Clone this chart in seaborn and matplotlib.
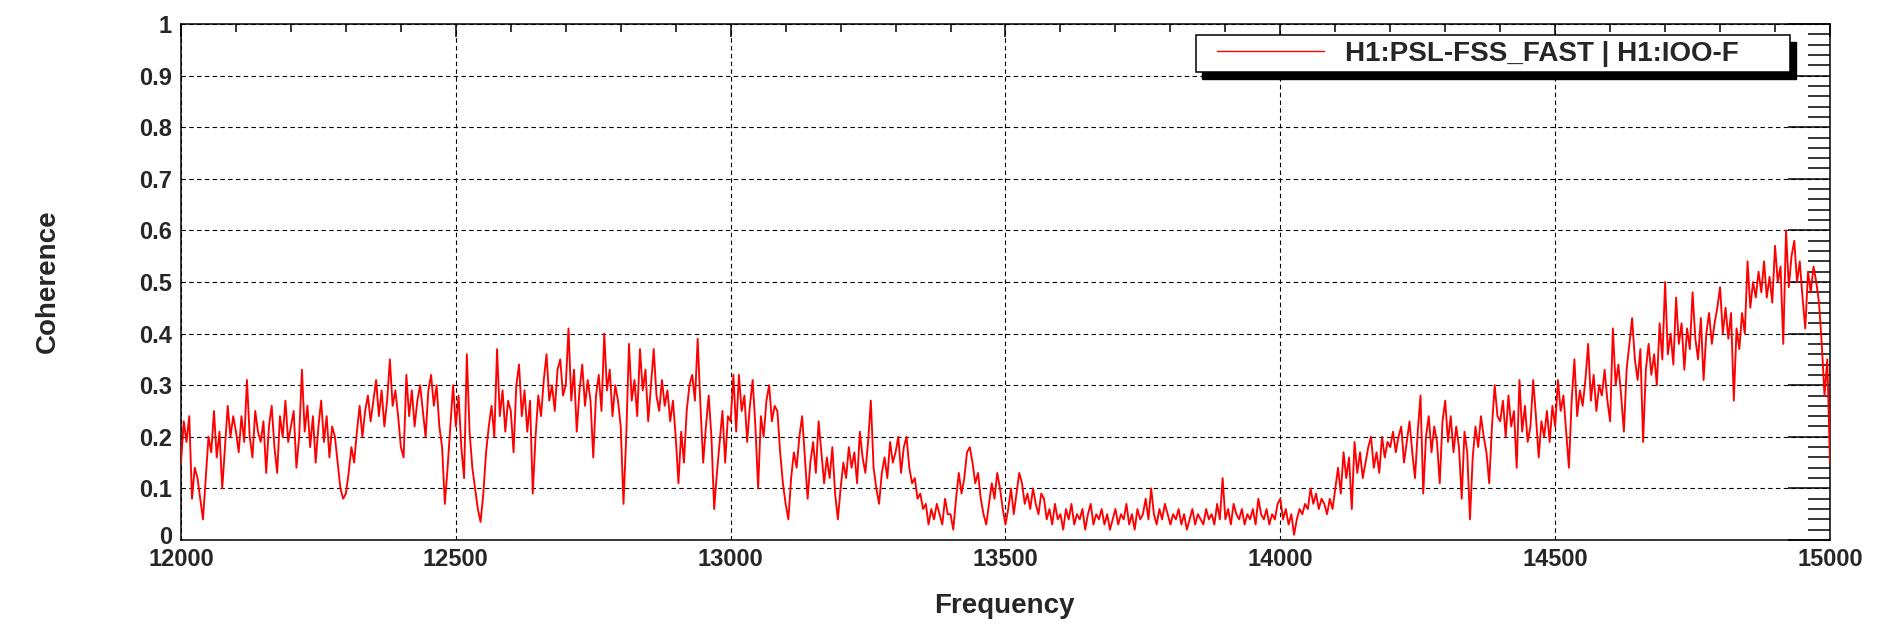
import numpy as np
import pandas as pd
import seaborn as sns
import matplotlib
matplotlib.use("Agg")
import matplotlib.pyplot as plt
from matplotlib.patches import Rectangle
from matplotlib.ticker import MultipleLocator, FuncFormatter
from matplotlib.transforms import ScaledTranslation

# ---------------- data (coherence, 5 Hz steps) ----------------
f_start, f_stop = 12000, 15000

coh_12000_12500 = [
    0.15, 0.23, 0.19, 0.24, 0.08, 0.14, 0.12, 0.08, 0.04, 0.12, 0.20, 0.17, 0.25, 0.16, 0.21, 0.10, 0.18, 0.26, 0.20, 0.24,
    0.21, 0.17, 0.24, 0.19, 0.31, 0.20, 0.16, 0.25, 0.21, 0.19, 0.23, 0.13, 0.22, 0.26, 0.18, 0.13, 0.24, 0.20, 0.27, 0.19,
    0.22, 0.25, 0.14, 0.20, 0.33, 0.21, 0.26, 0.18, 0.24, 0.15, 0.22, 0.27, 0.19, 0.24, 0.16, 0.22, 0.20, 0.15, 0.10, 0.08,
    0.09, 0.13, 0.18, 0.15, 0.21, 0.26, 0.20, 0.25, 0.28, 0.23, 0.27, 0.31, 0.24, 0.29, 0.22, 0.27, 0.35, 0.26, 0.29, 0.24,
    0.18, 0.16, 0.32, 0.24, 0.29, 0.22, 0.27, 0.30, 0.25, 0.20, 0.29, 0.32, 0.26, 0.30, 0.22, 0.18, 0.07, 0.14, 0.22, 0.30,
]
coh_12500_13000 = [
    0.22, 0.28, 0.18, 0.12, 0.36, 0.21, 0.14, 0.10, 0.06, 0.035, 0.09, 0.17, 0.22, 0.26, 0.20, 0.37, 0.24, 0.29, 0.21, 0.27,
    0.25, 0.17, 0.30, 0.34, 0.24, 0.29, 0.21, 0.27, 0.09, 0.20, 0.28, 0.24, 0.31, 0.36, 0.27, 0.30, 0.25, 0.33, 0.35, 0.28,
    0.30, 0.41, 0.27, 0.33, 0.21, 0.29, 0.34, 0.26, 0.31, 0.27, 0.16, 0.28, 0.32, 0.25, 0.40, 0.29, 0.33, 0.24, 0.30, 0.27,
    0.22, 0.07, 0.20, 0.38, 0.27, 0.31, 0.24, 0.37, 0.29, 0.33, 0.23, 0.30, 0.37, 0.28, 0.25, 0.31, 0.26, 0.29, 0.23, 0.27,
    0.20, 0.11, 0.21, 0.15, 0.25, 0.30, 0.32, 0.27, 0.39, 0.26, 0.15, 0.22, 0.28, 0.20, 0.06, 0.13, 0.19, 0.25, 0.15, 0.24,
]
coh_13000_13500 = [
    0.23, 0.32, 0.21, 0.32, 0.25, 0.28, 0.19, 0.26, 0.31, 0.22, 0.10, 0.24, 0.20, 0.27, 0.30, 0.23, 0.26, 0.25, 0.17, 0.11,
    0.07, 0.04, 0.12, 0.17, 0.14, 0.20, 0.24, 0.16, 0.08, 0.15, 0.19, 0.13, 0.23, 0.17, 0.11, 0.16, 0.12, 0.18, 0.09, 0.04,
    0.10, 0.15, 0.12, 0.18, 0.14, 0.17, 0.11, 0.21, 0.16, 0.13, 0.19, 0.27, 0.14, 0.10, 0.07, 0.13, 0.16, 0.12, 0.19, 0.15,
    0.17, 0.20, 0.13, 0.18, 0.20, 0.14, 0.11, 0.12, 0.08, 0.09, 0.06, 0.07, 0.03, 0.06, 0.04, 0.07, 0.05, 0.03, 0.08, 0.05,
    0.05, 0.02, 0.08, 0.13, 0.09, 0.12, 0.17, 0.18, 0.15, 0.11, 0.13, 0.08, 0.05, 0.03, 0.07, 0.11, 0.08, 0.13, 0.10, 0.06,
]
coh_13500_14000 = [
    0.03, 0.06, 0.10, 0.05, 0.09, 0.13, 0.11, 0.07, 0.09, 0.06, 0.10, 0.07, 0.05, 0.09, 0.08, 0.04, 0.06, 0.03, 0.07, 0.04,
    0.05, 0.02, 0.06, 0.04, 0.07, 0.03, 0.05, 0.04, 0.06, 0.02, 0.05, 0.07, 0.03, 0.05, 0.04, 0.06, 0.03, 0.05, 0.02, 0.04,
    0.06, 0.03, 0.05, 0.04, 0.07, 0.03, 0.05, 0.02, 0.06, 0.04, 0.05, 0.08, 0.04, 0.10, 0.05, 0.03, 0.06, 0.04, 0.07, 0.05,
    0.03, 0.05, 0.04, 0.06, 0.03, 0.05, 0.02, 0.04, 0.06, 0.03, 0.05, 0.04, 0.03, 0.06, 0.04, 0.05, 0.03, 0.07, 0.04, 0.12,
    0.04, 0.06, 0.03, 0.07, 0.05, 0.04, 0.06, 0.03, 0.05, 0.04, 0.06, 0.03, 0.08, 0.05, 0.04, 0.06, 0.03, 0.05, 0.04, 0.07,
]
coh_14000_14500 = [
    0.08, 0.04, 0.06, 0.03, 0.05, 0.01, 0.04, 0.06, 0.05, 0.07, 0.06, 0.10, 0.07, 0.09, 0.06, 0.08, 0.07, 0.05, 0.08, 0.06,
    0.10, 0.14, 0.09, 0.17, 0.12, 0.16, 0.06, 0.19, 0.13, 0.17, 0.12, 0.15, 0.18, 0.20, 0.14, 0.17, 0.13, 0.20, 0.16, 0.19,
    0.18, 0.21, 0.17, 0.20, 0.22, 0.15, 0.19, 0.23, 0.17, 0.12, 0.21, 0.28, 0.09, 0.20, 0.24, 0.17, 0.22, 0.19, 0.11, 0.23,
    0.27, 0.19, 0.24, 0.17, 0.22, 0.18, 0.08, 0.21, 0.17, 0.04, 0.16, 0.22, 0.18, 0.24, 0.20, 0.17, 0.11, 0.22, 0.30, 0.24,
    0.23, 0.27, 0.20, 0.28, 0.22, 0.25, 0.14, 0.31, 0.21, 0.26, 0.19, 0.22, 0.31, 0.24, 0.16, 0.23, 0.20, 0.25, 0.19, 0.26,
]
coh_14500_15000 = [
    0.22, 0.31, 0.25, 0.28, 0.21, 0.14, 0.27, 0.35, 0.24, 0.29, 0.26, 0.31, 0.38, 0.27, 0.32, 0.25, 0.30, 0.28, 0.33, 0.27,
    0.23, 0.41, 0.30, 0.34, 0.28, 0.21, 0.33, 0.38, 0.43, 0.35, 0.31, 0.37, 0.19, 0.33, 0.38, 0.32, 0.36, 0.30, 0.42, 0.35,
    0.50, 0.36, 0.40, 0.34, 0.47, 0.38, 0.42, 0.33, 0.41, 0.37, 0.48, 0.39, 0.35, 0.43, 0.31, 0.40, 0.44, 0.38, 0.42, 0.45,
    0.49, 0.40, 0.45, 0.39, 0.44, 0.27, 0.41, 0.37, 0.44, 0.40, 0.54, 0.45, 0.50, 0.47, 0.52, 0.48, 0.54, 0.47, 0.51, 0.46,
    0.57, 0.50, 0.53, 0.38, 0.60, 0.49, 0.55, 0.58, 0.50, 0.54, 0.47, 0.41, 0.52, 0.48, 0.53, 0.50, 0.46, 0.38, 0.28, 0.35,
]
coh_end = [0.15]

series_label = "H1:PSL-FSS_FAST | H1:IOO-F"
x_title = "Frequency"
y_title = "Coherence"

coherence = (coh_12000_12500 + coh_12500_13000 + coh_13000_13500 +
             coh_13500_14000 + coh_14000_14500 + coh_14500_15000 + coh_end)
freq = np.linspace(f_start, f_stop, len(coherence))
df = pd.DataFrame({"Frequency": freq, "Coherence": coherence})

# ---------------- style ----------------
sns.set_style("white")
plt.rcParams["font.family"] = ["Liberation Sans", "DejaVu Sans"]
plt.rcParams["font.weight"] = "bold"

fig = plt.figure(figsize=(18.78, 6.28), dpi=100)
ax = fig.add_axes([181 / 1878, 88 / 628, 1649 / 1878, 516 / 628])

sns.lineplot(data=df, x="Frequency", y="Coherence", ax=ax, color="#ff0000",
             linewidth=1.35, estimator=None, sort=False, legend=False, zorder=3)

ax.set_xlim(f_start, f_stop)
ax.set_ylim(0, 1)
ax.set_xlabel("")
ax.set_ylabel("")

ax.xaxis.set_major_locator(MultipleLocator(500))
ax.xaxis.set_minor_locator(MultipleLocator(100))
ax.yaxis.set_major_locator(MultipleLocator(0.1))
ax.yaxis.set_minor_locator(MultipleLocator(0.02))
ax.yaxis.set_major_formatter(FuncFormatter(lambda v, p: f"{v:.1f}".rstrip("0").rstrip(".") if abs(v) > 1e-9 else "0"))
ax.xaxis.set_major_formatter(FuncFormatter(lambda v, p: f"{int(round(v))}"))

ax.tick_params(axis="both", which="both", direction="in", top=True, right=True,
               color="black", width=1.1)
ax.tick_params(axis="x", which="major", length=9.5, pad=5.5, labelsize=17)
ax.tick_params(axis="x", which="minor", length=5.8)
ax.tick_params(axis="y", which="major", length=30, pad=6.5, labelsize=17)
ax.tick_params(axis="y", which="minor", length=16)

fig.canvas.draw()
for lab in ax.get_xticklabels() + ax.get_yticklabels():
    lab.set_fontweight("bold")
# lift the "0" of the y axis slightly so it does not sit on "12000"
for lab in ax.get_yticklabels():
    if lab.get_text() == "0":
        lab.set_transform(lab.get_transform() + ScaledTranslation(0, 3.5 / 72, fig.dpi_scale_trans))

ax.grid(True, which="major", color="black", linestyle=(0, (4, 3)), linewidth=0.8)
ax.set_axisbelow(True)
for sp in ax.spines.values():
    sp.set_color("black")
    sp.set_linewidth(1.1)

# axis titles
fig.text(1004 / 1878, (628 - 613) / 628, x_title, ha="center", va="baseline",
         fontsize=20, fontweight="bold")
fig.text(48 / 1878, (628 - 281) / 628, y_title, ha="center", va="center",
         rotation=90, fontsize=20, fontweight="bold")

# legend (ROOT-like box with shadow)
box_x0, box_y0, box_w, box_h = 0.6155, 0.9068, 0.3602, 0.0718
shadow = Rectangle((box_x0 + 0.0037, box_y0 - 0.0140), box_w, box_h, transform=ax.transAxes,
                   facecolor="black", edgecolor="black", zorder=8, clip_on=False)
frame = Rectangle((box_x0, box_y0), box_w, box_h, transform=ax.transAxes,
                  facecolor="white", edgecolor="black", linewidth=1.1, zorder=9, clip_on=False)
ax.add_patch(shadow)
ax.add_patch(frame)
handle = ax.get_lines()[0]
leg = ax.legend([handle], [series_label], loc="center left",
                bbox_to_anchor=(0.6283, box_y0 + box_h / 2), frameon=False,
                borderpad=0, borderaxespad=0, handlelength=3.85, handletextpad=0.75,
                prop={"size": 20, "weight": "bold"})
leg.set_zorder(10)
for l in leg.get_lines():
    l.set_linewidth(1.0)

fig.savefig("out.png", dpi=100)
